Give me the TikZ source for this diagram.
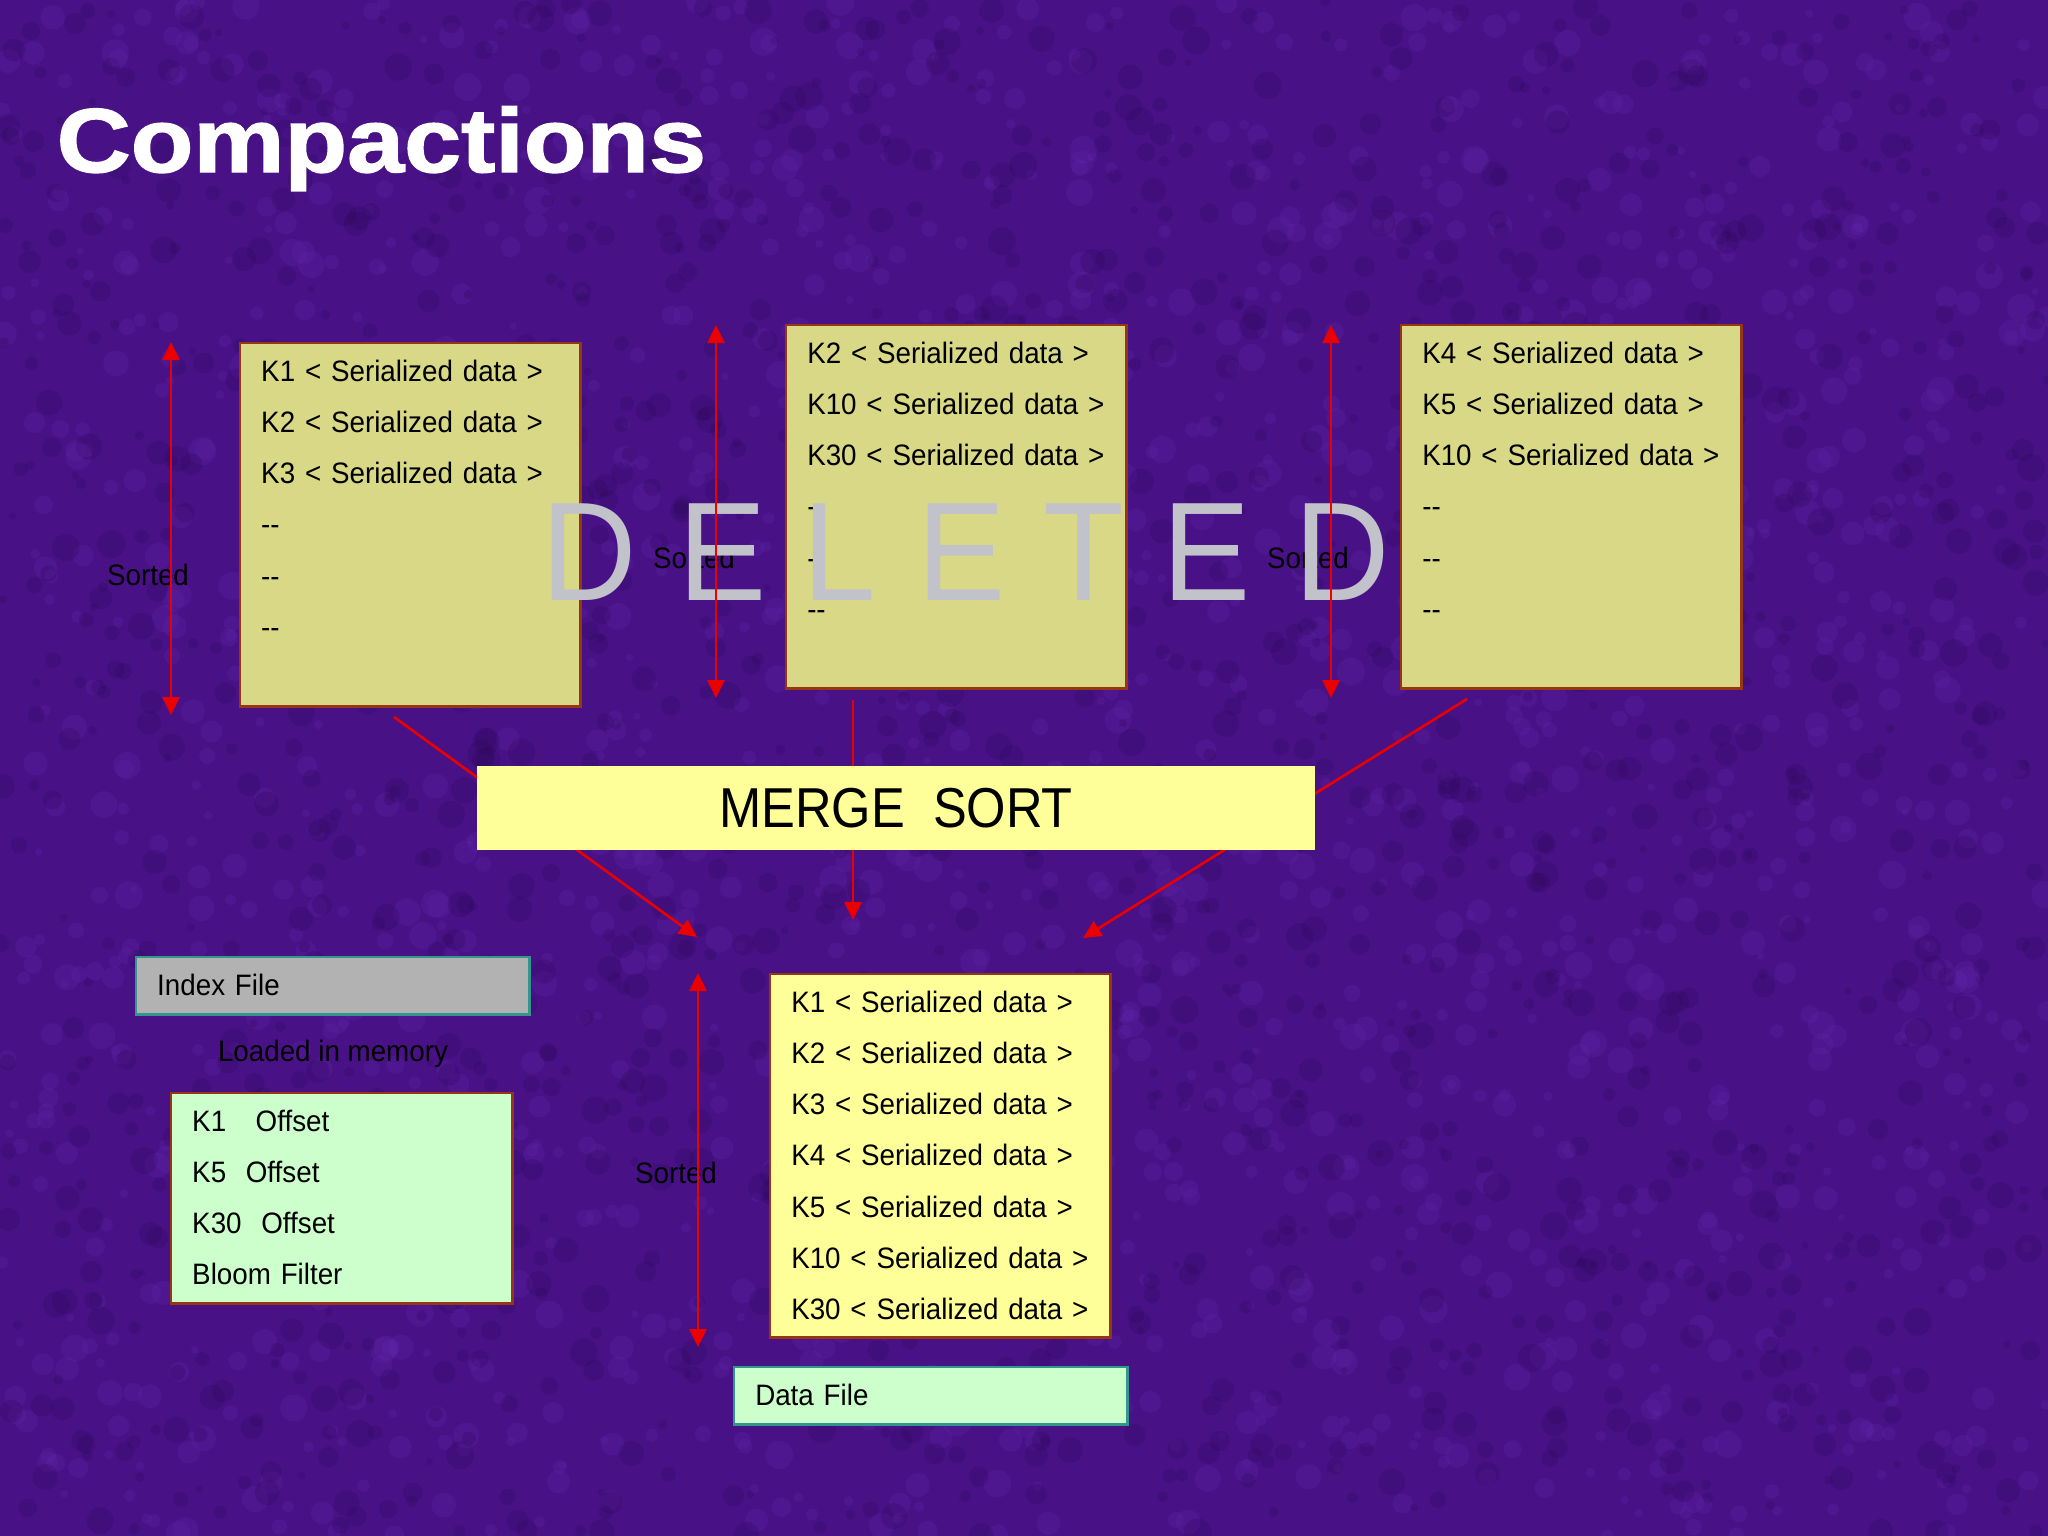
\documentclass[tikz,border=0pt]{standalone}
\usepackage{fontspec}
\setmainfont{Liberation Sans}[FakeStretch=0.94]
\newfontfamily\titlefont{Liberation Sans Bold}[FakeStretch=1.13,FakeBold=1.6]
\newfontfamily\narrowfont{Liberation Sans}[FakeStretch=0.9]
\usepackage{tikz}
\usetikzlibrary{arrows.meta}

\definecolor{bgpurple}{RGB}{72,18,134}
\definecolor{grainlight}{RGB}{110,45,185}
\definecolor{graindark}{RGB}{36,5,75}
\definecolor{khaki}{RGB}{216,216,134}
\definecolor{paleyellow}{RGB}{255,255,153}
\definecolor{mint}{RGB}{204,255,204}
\definecolor{greybox}{RGB}{178,178,178}
\definecolor{brownedge}{RGB}{150,55,20}
\definecolor{tealedge}{RGB}{51,150,140}
\definecolor{redline}{RGB}{235,0,0}
\definecolor{delgray}{RGB}{194,194,202}

\newcommand{\emptyrow}{\mbox{-}\mbox{-}}

\begin{document}
\begin{tikzpicture}[
  x=0.01cm, y=-0.01cm,
  font=\fontsize{8.4}{14.57}\selectfont,
  rec/.style={draw=brownedge, line width=0.7pt, anchor=north west, align=left,
              inner xsep=0.21cm, inner ysep=0pt, text height=0.38cm},
  oldrec/.style={rec, fill=khaki, text width=2.98cm, text depth=3.25cm},
  newrec/.style={rec, fill=paleyellow, text width=2.98cm, text depth=3.25cm},
  idxrec/.style={rec, fill=mint, text width=2.99cm, text depth=1.72cm},
  tagrec/.style={rec, draw=tealedge, text width=3.51cm, text depth=0.19cm},
  note/.style={inner sep=0pt, text=black},
  delchar/.style={anchor=base, inner sep=0pt, text=delgray, font=\fontsize{40}{40}\selectfont},
  sortarr/.style={{Triangle[length=0.18cm,width=0.17cm]}-{Triangle[length=0.18cm,width=0.17cm]}, draw=redline, line width=0.75pt},
  mergearr/.style={-{Triangle[length=0.18cm,width=0.17cm]}, draw=redline, line width=0.75pt},
  grain/.style={opacity=0.18},
]
% background
\path[use as bounding box, fill=bgpurple] (0,0) rectangle (2048,1536);
\pgfmathsetseed{7}
\foreach \i in {1,...,1600} \fill[grain, grainlight] ({2048*rnd},{1536*rnd}) circle[radius={(1+3*rnd)*1pt}];
\foreach \i in {1,...,1600} \fill[grain, graindark] ({2048*rnd},{1536*rnd}) circle[radius={(1+3*rnd)*1pt}];
% title
\node[anchor=base west, inner sep=0pt, text=white, font=\titlefont\fontsize{25.8}{30}\selectfont] (title) at (56,172) {Compactions};
% old store files
\node[oldrec] (old1) at (239,342) {K1 < Serialized data >\\K2 < Serialized data >\\K3 < Serialized data >\\\emptyrow\\\emptyrow\\\emptyrow};
\node[oldrec] (old2) at (785,324) {K2 < Serialized data >\\K10 < Serialized data >\\K30 < Serialized data >\\\emptyrow\\\emptyrow\\\emptyrow};
\node[oldrec] (old3) at (1400,324) {K4 < Serialized data >\\K5 < Serialized data >\\K10 < Serialized data >\\\emptyrow\\\emptyrow\\\emptyrow};
\node[note] (srt1) at (148,575) {Sorted};
\node[note] (srt2) at (694,558) {Sorted};
\node[note] (srt3) at (1308,558) {Sorted};
% new store file
\node[tagrec, fill=greybox] (idxtag) at (135,956) {Index File};
\node[note] (loaded) at (333,1054) {Loaded in memory};
\node[idxrec] (idx) at (170,1092) {K1\ \ \ Offset\\K5\ \ Offset\\K30\ \ Offset\\Bloom Filter};
\node[newrec] (dat) at (769,973) {K1 < Serialized data >\\K2 < Serialized data >\\K3 < Serialized data >\\K4 < Serialized data >\\K5 < Serialized data >\\K10 < Serialized data >\\K30 < Serialized data >};
\node[tagrec, fill=mint] (dattag) at (733,1366) {Data File};
\node[note] (srt4) at (676,1173) {Sorted};
% deleted stamp
\foreach \x/\c [count=\i] in {589/D,723/E,839/L,962/E,1084/T,1207/E,1342/D}
  \node[delchar] (del\i) at (\x,600) {\c};
% sorted arrows
\coordinate (s1a) at (171,342); \coordinate (s1b) at (171,715);
\coordinate (s2a) at (716,325); \coordinate (s2b) at (716,698);
\coordinate (s3a) at (1331,325); \coordinate (s3b) at (1331,698);
\coordinate (s4a) at (698,973); \coordinate (s4b) at (698,1347);
\draw[sortarr] (s1a) -- (s1b);
\draw[sortarr] (s2a) -- (s2b);
\draw[sortarr] (s3a) -- (s3b);
\draw[sortarr] (s4a) -- (s4b);
% merge
\coordinate (m1a) at (394,717); \coordinate (m1b) at (697,937);
\coordinate (m2a) at (853,700); \coordinate (m2b) at (853,920);
\coordinate (m3a) at (1467,699); \coordinate (m3b) at (1083,938);
\draw[mergearr] (m1a) -- (m1b);
\draw[mergearr] (m2a) -- (m2b);
\draw[mergearr] (m3a) -- (m3b);
\node[fill=paleyellow, minimum width=8.38cm, minimum height=0.83cm, inner sep=0pt,
      font=\narrowfont\fontsize{16}{19}\selectfont] (merge) at (896,808) {MERGE\ \ SORT};
\end{tikzpicture}
\end{document}
